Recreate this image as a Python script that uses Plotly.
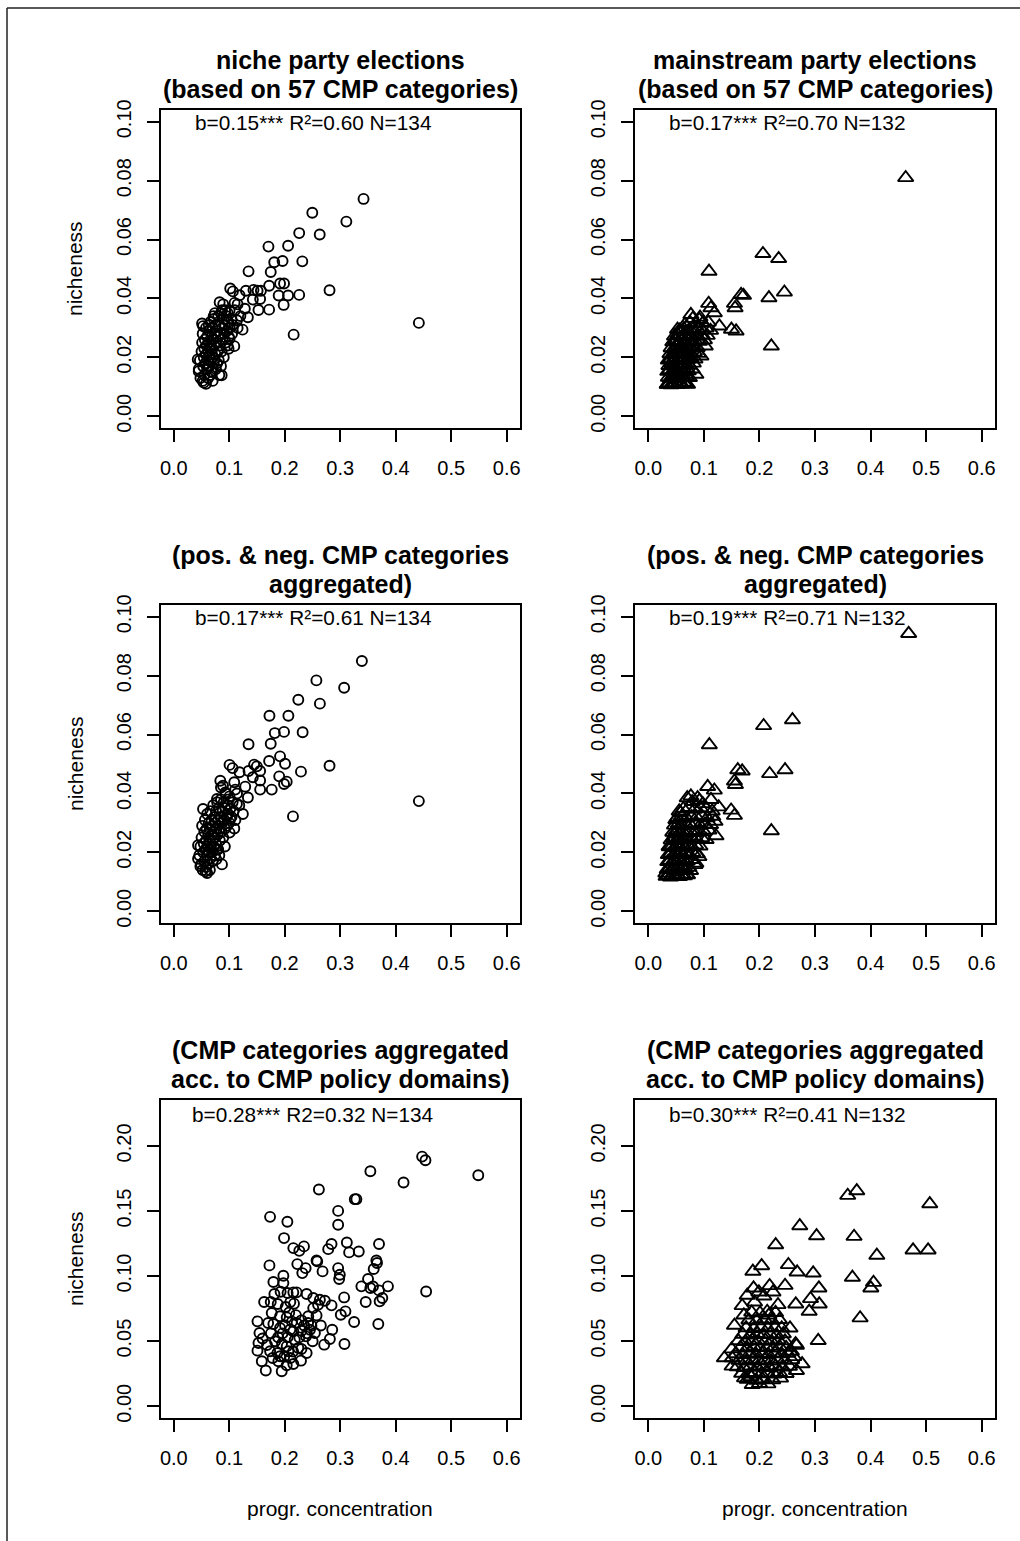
import plotly.graph_objects as go

# ---------------- data ----------------
x_tick_vals = [0.0, 0.1, 0.2, 0.3, 0.4, 0.5, 0.6]
x_tick_text = ["0.0", "0.1", "0.2", "0.3", "0.4", "0.5", "0.6"]
y_tick_vals_a = [0.00, 0.02, 0.04, 0.06, 0.08, 0.10]
y_tick_text_a = ["0.00", "0.02", "0.04", "0.06", "0.08", "0.10"]
y_tick_vals_b = [0.00, 0.05, 0.10, 0.15, 0.20]
y_tick_text_b = ["0.00", "0.05", "0.10", "0.15", "0.20"]

titles = [
    ["niche party elections", "(based on 57 CMP categories)"],
    ["mainstream party elections", "(based on 57 CMP categories)"],
    ["(pos. & neg. CMP categories", "aggregated)"],
    ["(pos. & neg. CMP categories", "aggregated)"],
    ["(CMP categories aggregated", "acc. to CMP policy domains)"],
    ["(CMP categories aggregated", "acc. to CMP policy domains)"],
]
stats = [
    "b=0.15*** R²=0.60 N=134",
    "b=0.17*** R²=0.70 N=132",
    "b=0.17*** R²=0.61 N=134",
    "b=0.19*** R²=0.71 N=132",
    "b=0.28*** R2=0.32 N=134",
    "b=0.30*** R²=0.41 N=132",
]
x_label = "progr. concentration"
y_label = "nicheness"

# niche parties, 57 categories
niche_57 = [
    (0.342,0.0738),(0.2496,0.0691),(0.311,0.0661),(0.226,0.0622),(0.263,0.0617),(0.1706,0.0576),
    (0.206,0.0579),(0.181,0.0523),(0.196,0.0527),(0.2316,0.0526),(0.1347,0.0492),(0.1747,0.049),
    (0.1718,0.0443),(0.1915,0.0451),(0.1987,0.0451),(0.2807,0.0428),(0.1017,0.0434),(0.1065,0.0424),
    (0.1185,0.0411),(0.130,0.0426),(0.1436,0.0429),(0.151,0.0426),(0.157,0.0426),(0.1424,0.0396),
    (0.1556,0.0398),(0.189,0.041),(0.206,0.041),(0.226,0.0412),(0.198,0.0378),(0.1718,0.0362),
    (0.1526,0.0361),(0.1335,0.0336),(0.128,0.0365),(0.4417,0.0317),(0.216,0.0277),(0.0826,0.0387),
    (0.1095,0.0385),(0.1005,0.0359),(0.097,0.0351),(0.0868,0.036),(0.0718,0.034),(0.1137,0.0326),
    (0.1239,0.0294),(0.109,0.0238),(0.1005,0.0263),(0.0987,0.0229),(0.0509,0.0315),(0.0527,0.0306),
    (0.0862,0.0139),(0.0431,0.0193),(0.0449,0.0153),(0.0539,0.0114),
    (0.045,0.016),(0.047,0.019),(0.048,0.013),(0.050,0.022),(0.051,0.025),(0.052,0.028),(0.052,0.012),
    (0.053,0.017),(0.054,0.020),(0.055,0.023),(0.055,0.014),(0.056,0.026),(0.057,0.018),(0.058,0.021),
    (0.058,0.030),(0.059,0.024),(0.060,0.016),(0.060,0.027),(0.061,0.019),(0.062,0.022),(0.062,0.013),
    (0.063,0.025),(0.064,0.029),(0.064,0.017),(0.065,0.021),(0.066,0.024),(0.066,0.032),(0.067,0.019),
    (0.068,0.027),(0.068,0.015),(0.069,0.023),(0.070,0.030),(0.070,0.020),(0.071,0.026),(0.072,0.033),
    (0.072,0.018),(0.073,0.024),(0.074,0.028),(0.075,0.021),(0.075,0.031),(0.076,0.016),(0.077,0.025),
    (0.078,0.029),(0.079,0.022),(0.080,0.034),(0.080,0.027),(0.081,0.019),(0.082,0.031),(0.083,0.024),
    (0.084,0.028),(0.085,0.035),(0.086,0.022),(0.087,0.030),(0.088,0.026),(0.090,0.033),(0.091,0.028),
    (0.092,0.031),(0.094,0.025),(0.095,0.034),(0.096,0.029),(0.098,0.032),(0.099,0.027),(0.101,0.030),
    (0.104,0.033),(0.106,0.031),(0.078,0.018),(0.070,0.012),(0.066,0.014),(0.058,0.011),(0.085,0.017),
    (0.063,0.031),(0.074,0.035),(0.089,0.038),(0.093,0.036),(0.11,0.036),(0.115,0.038),(0.12,0.034),
    (0.105,0.028),(0.115,0.030),(0.097,0.024),(0.09,0.020),(0.082,0.014),
]

# mainstream parties, 57 categories
main_57 = [
    (0.4632,0.081),(0.2063,0.0552),(0.2346,0.0535),(0.1092,0.0492),(0.2449,0.0421),(0.2171,0.0402),
    (0.2214,0.0238),(0.167,0.0413),(0.1713,0.041),(0.155,0.0383),(0.1562,0.0368),(0.1496,0.0295),
    (0.158,0.0289),(0.1086,0.0383),(0.1127,0.0368),(0.1188,0.0351),(0.1279,0.0306),(0.0766,0.0345),
    (0.0917,0.0328),(0.1025,0.0238),(0.0947,0.0204),(0.0856,0.0142),(0.0706,0.0108),(0.0525,0.0295),
    (0.0374,0.0193),(0.0344,0.0108),
    (0.034,0.0108),(0.038,0.0112),(0.041,0.0106),(0.045,0.0110),(0.049,0.0113),(0.052,0.0107),
    (0.056,0.0111),(0.060,0.0109),(0.064,0.0114),(0.068,0.0110),
    (0.036,0.0132),(0.040,0.0128),(0.044,0.0135),(0.047,0.0129),(0.051,0.0134),(0.055,0.0127),
    (0.059,0.0133),(0.063,0.0130),(0.069,0.0136),(0.074,0.0131),
    (0.035,0.0152),(0.039,0.0158),(0.043,0.0150),(0.048,0.0155),(0.052,0.0153),(0.057,0.0159),
    (0.061,0.0151),(0.066,0.0156),(0.072,0.0154),(0.079,0.0160),
    (0.037,0.0172),(0.042,0.0178),(0.046,0.0170),(0.050,0.0176),(0.054,0.0173),(0.058,0.0179),
    (0.063,0.0171),(0.067,0.0177),(0.073,0.0174),(0.081,0.0180),
    (0.036,0.0190),(0.041,0.0195),(0.045,0.0188),(0.049,0.0197),(0.053,0.0192),(0.057,0.0199),
    (0.062,0.0191),(0.066,0.0196),(0.071,0.0193),(0.077,0.0198),(0.084,0.0194),
    (0.039,0.0212),(0.044,0.0208),(0.048,0.0215),(0.052,0.0210),(0.056,0.0217),(0.061,0.0211),
    (0.065,0.0216),(0.070,0.0209),(0.076,0.0214),(0.083,0.0218),(0.090,0.0213),
    (0.041,0.0232),(0.046,0.0228),(0.051,0.0235),(0.055,0.0230),(0.060,0.0237),(0.064,0.0229),
    (0.069,0.0234),(0.075,0.0231),(0.081,0.0238),(0.088,0.0233),
    (0.044,0.0252),(0.049,0.0257),(0.054,0.0250),(0.059,0.0255),(0.065,0.0253),(0.071,0.0258),
    (0.077,0.0251),(0.084,0.0256),(0.092,0.0254),(0.101,0.0259),
    (0.047,0.0272),(0.053,0.0277),(0.060,0.0270),(0.067,0.0275),(0.074,0.0273),(0.082,0.0278),
    (0.089,0.0271),(0.097,0.0276),(0.106,0.0274),
    (0.056,0.0292),(0.064,0.0297),(0.072,0.0290),(0.080,0.0295),(0.088,0.0298),(0.096,0.0293),
    (0.104,0.0299),(0.112,0.0291),
    (0.066,0.0312),(0.075,0.0318),(0.085,0.0314),(0.098,0.0316),(0.108,0.0319),
    (0.080,0.0332),(0.093,0.0336),
]

# niche parties, pos. & neg. aggregated
niche_agg = [
    (0.339,0.085),(0.257,0.0784),(0.307,0.0759),(0.2244,0.0718),(0.2633,0.0705),(0.1724,0.0664),
    (0.2065,0.0664),(0.182,0.0605),(0.1987,0.0609),(0.2322,0.0608),(0.1347,0.0567),(0.1747,0.0569),
    (0.1915,0.0526),(0.1718,0.051),(0.2005,0.0501),(0.2807,0.0494),(0.2292,0.0474),(0.1005,0.0497),
    (0.1059,0.0486),(0.1185,0.0472),(0.1347,0.0476),(0.1448,0.0498),(0.1496,0.0492),(0.1556,0.0476),
    (0.1424,0.0455),(0.1556,0.0444),(0.190,0.0458),(0.2035,0.044),(0.1987,0.0432),(0.1765,0.0413),
    (0.1556,0.0413),(0.1287,0.0423),(0.1335,0.0386),(0.4417,0.0374),(0.2148,0.0322),(0.0838,0.0443),
    (0.1089,0.0438),(0.1107,0.0413),(0.0886,0.0426),(0.0928,0.0403),(0.1005,0.039),(0.0778,0.0381),
    (0.1137,0.0364),(0.1245,0.033),(0.1017,0.0313),(0.109,0.0281),(0.1005,0.0267),(0.0527,0.0347),
    (0.0437,0.0224),(0.0437,0.0178),(0.0479,0.0153),(0.0569,0.0136),(0.0868,0.0159),(0.0766,0.0176),
    (0.0778,0.021),
    (0.046,0.019),(0.048,0.022),(0.049,0.016),(0.050,0.025),(0.051,0.029),(0.052,0.014),(0.053,0.020),
    (0.054,0.023),(0.055,0.027),(0.055,0.017),(0.056,0.031),(0.057,0.021),(0.058,0.024),(0.058,0.015),
    (0.059,0.028),(0.060,0.019),(0.060,0.033),(0.061,0.022),(0.062,0.026),(0.062,0.016),(0.063,0.030),
    (0.064,0.020),(0.064,0.024),(0.065,0.028),(0.066,0.018),(0.066,0.034),(0.067,0.022),(0.068,0.026),
    (0.068,0.031),(0.069,0.020),(0.070,0.024),(0.070,0.029),(0.071,0.036),(0.072,0.022),(0.072,0.027),
    (0.073,0.032),(0.074,0.019),(0.074,0.025),(0.075,0.030),(0.076,0.034),(0.076,0.023),(0.077,0.028),
    (0.078,0.037),(0.079,0.026),(0.080,0.031),(0.080,0.021),(0.081,0.035),(0.082,0.028),(0.083,0.024),
    (0.084,0.032),(0.085,0.038),(0.086,0.027),(0.087,0.030),(0.088,0.034),(0.089,0.025),(0.090,0.037),
    (0.091,0.031),(0.092,0.028),(0.093,0.035),(0.094,0.040),(0.095,0.032),(0.096,0.029),(0.097,0.036),
    (0.098,0.033),(0.099,0.038),(0.100,0.030),(0.102,0.035),(0.104,0.032),(0.106,0.037),(0.108,0.034),
    (0.111,0.031),(0.114,0.040),(0.118,0.036),(0.070,0.017),(0.065,0.014),(0.082,0.019),(0.060,0.013),
    (0.092,0.022),(0.085,0.042),
]

# mainstream parties, pos. & neg. aggregated
main_agg = [
    (0.4686,0.0943),(0.2594,0.065),(0.2075,0.063),(0.1098,0.0565),(0.161,0.048),(0.1689,0.0476),
    (0.2183,0.0467),(0.2461,0.048),(0.155,0.0442),(0.1568,0.043),(0.2214,0.0273),(0.149,0.0343),
    (0.155,0.0325),(0.1068,0.0423),(0.1188,0.0411),(0.1128,0.0379),(0.1267,0.0354),(0.1218,0.0256),
    (0.0856,0.0163),(0.0766,0.0391),(0.0887,0.0385),(0.0555,0.034),(0.0495,0.0311),(0.0374,0.022),
    (0.0314,0.0129),(0.0706,0.0123),
    (0.032,0.0118),(0.036,0.0122),(0.040,0.0116),(0.044,0.0121),(0.048,0.0119),(0.052,0.0124),
    (0.056,0.0117),(0.060,0.0123),(0.065,0.0120),(0.069,0.0125),
    (0.034,0.0142),(0.038,0.0147),(0.042,0.0140),(0.046,0.0145),(0.050,0.0143),(0.054,0.0148),
    (0.058,0.0141),(0.062,0.0146),(0.067,0.0144),(0.073,0.0149),
    (0.035,0.0168),(0.039,0.0172),(0.043,0.0166),(0.047,0.0171),(0.051,0.0169),(0.055,0.0174),
    (0.060,0.0167),(0.064,0.0173),(0.070,0.0170),(0.078,0.0175),
    (0.036,0.0192),(0.041,0.0197),(0.045,0.0190),(0.049,0.0195),(0.053,0.0193),(0.058,0.0198),
    (0.062,0.0191),(0.067,0.0196),(0.073,0.0194),(0.080,0.0199),(0.088,0.0195),
    (0.038,0.0218),(0.043,0.0222),(0.047,0.0216),(0.052,0.0221),(0.057,0.0219),(0.061,0.0224),
    (0.066,0.0217),(0.072,0.0223),(0.078,0.0220),(0.085,0.0225),(0.093,0.0221),
    (0.041,0.0242),(0.046,0.0247),(0.051,0.0240),(0.056,0.0245),(0.061,0.0243),(0.066,0.0248),
    (0.072,0.0241),(0.079,0.0246),(0.087,0.0244),(0.096,0.0249),(0.104,0.0243),
    (0.044,0.0268),(0.050,0.0272),(0.056,0.0266),(0.062,0.0271),(0.068,0.0269),(0.075,0.0274),
    (0.083,0.0267),(0.091,0.0273),(0.100,0.0270),(0.109,0.0275),
    (0.047,0.0292),(0.054,0.0297),(0.061,0.0290),(0.068,0.0295),(0.076,0.0293),(0.084,0.0298),
    (0.093,0.0291),(0.102,0.0296),(0.112,0.0294),
    (0.052,0.0318),(0.060,0.0322),(0.069,0.0316),(0.078,0.0321),(0.087,0.0319),(0.096,0.0324),
    (0.106,0.0317),(0.116,0.0322),
    (0.063,0.0348),(0.073,0.0352),(0.083,0.0346),(0.094,0.0351),(0.104,0.0349),
    (0.079,0.0372),(0.092,0.0376),
    (0.070,0.0385),(0.098,0.0365),(0.115,0.0340),(0.120,0.0305),(0.058,0.0335),(0.048,0.0262),
    (0.084,0.0158),(0.076,0.0138),(0.091,0.0185),
]

# niche parties, policy domains
niche_dom = [
    (0.4476,0.1918),(0.4536,0.189),(0.5488,0.1775),(0.3543,0.1806),(0.4141,0.1719),(0.2615,0.1665),
    (0.3262,0.1591),(0.3291,0.1591),(0.2962,0.1501),(0.2962,0.1394),(0.1735,0.1455),(0.2047,0.1417),
    (0.1987,0.1292),(0.2154,0.1215),(0.2262,0.1194),(0.2346,0.1228),(0.2783,0.1207),(0.2843,0.1246),
    (0.3119,0.1258),(0.3160,0.1182),(0.3334,0.1189),(0.3699,0.1246),(0.3651,0.112),(0.3663,0.11),
    (0.2573,0.112),(0.2585,0.1113),(0.2681,0.1036),(0.2226,0.1092),(0.2376,0.1061),(0.2316,0.1023),
    (0.1724,0.1082),(0.1975,0.1003),(0.2962,0.1061),(0.2992,0.101),(0.2980,0.0977),(0.3603,0.1054),
    (0.3501,0.0977),(0.3381,0.0921),(0.3543,0.0908),(0.359,0.092),(0.3698,0.089),(0.386,0.0921),
    (0.3758,0.0831),(0.371,0.0806),(0.3459,0.0801),(0.4548,0.0882),(0.307,0.0836),(0.3094,0.0729),
    (0.301,0.0703),(0.325,0.0647),(0.3686,0.0632),(0.2855,0.0588),(0.2813,0.0517),(0.3076,0.0478),
    (0.2711,0.0473),(0.1795,0.0954),(0.1975,0.0946),(0.1813,0.0862),(0.2154,0.0875),(0.2214,0.0875),
    (0.2394,0.0862),(0.2513,0.0831),(0.2633,0.0818),(0.2723,0.0811),(0.2843,0.0775),(0.1628,0.0801),
    (0.1747,0.0801),(0.1873,0.0785),(0.2017,0.0762),(0.2166,0.0788),(0.2513,0.0754),(0.1765,0.0716),
    (0.1915,0.0691),(0.2035,0.0683),(0.2424,0.0691),(0.2573,0.0698),(0.1508,0.0652),(0.1795,0.0632),
    (0.1915,0.0601),(0.2005,0.0621),(0.2214,0.0639),(0.2454,0.0588),(0.2543,0.0563),(0.1544,0.0563),
    (0.2154,0.0575),(0.2262,0.0529),(0.2382,0.0537),(0.2502,0.0499),(0.1526,0.0486),(0.1825,0.0499),
    (0.2035,0.046),(0.2244,0.0448),(0.1508,0.0427),(0.1736,0.0422),(0.1867,0.0409),(0.1915,0.0384),
    (0.2065,0.0422),(0.2394,0.0409),(0.1586,0.0345),(0.1885,0.0345),(0.2035,0.0315),(0.2154,0.0325),
    (0.2292,0.035),(0.1658,0.0274),(0.1945,0.0269),
    (0.1925,0.0880),(0.2050,0.0870),(0.2100,0.0800),(0.2080,0.0720),(0.2200,0.0700),(0.2300,0.0660),
    (0.2350,0.0620),(0.2420,0.0640),(0.2480,0.0620),(0.2130,0.0650),(0.2100,0.0590),(0.1960,0.0560),
    (0.2050,0.0530),(0.2180,0.0510),(0.2300,0.0580),(0.2400,0.0560),(0.1880,0.0530),(0.1750,0.0560),
    (0.1680,0.0470),(0.1950,0.0480),(0.2150,0.0420),(0.2300,0.0440),(0.1990,0.0380),(0.2100,0.0370),
    (0.1780,0.0370),(0.1600,0.0520),(0.1700,0.0640),(0.2600,0.0780),(0.2650,0.0620),
]

# mainstream parties, policy domains
main_dom = [
    (0.3752,0.1655),(0.3589,0.1619),(0.5066,0.1555),(0.2726,0.1386),(0.3028,0.1309),(0.3703,0.1304),
    (0.2292,0.124),(0.4113,0.1159),(0.4765,0.12),(0.5036,0.12),(0.2039,0.1079),(0.1882,0.1036),
    (0.2521,0.1087),(0.2678,0.1031),(0.2967,0.1023),(0.3673,0.099),(0.4053,0.0951),(0.4005,0.0908),
    (0.307,0.0908),(0.2461,0.0928),(0.2183,0.0926),(0.1894,0.0908),(0.199,0.0877),(0.2244,0.0877),
    (0.2919,0.0826),(0.2654,0.0785),(0.3076,0.0785),(0.2895,0.0729),(0.3812,0.0678),(0.1689,0.0772),
    (0.1912,0.08),(0.2334,0.078),(0.155,0.0621),(0.3058,0.0504),(0.2666,0.0468),(0.1369,0.0371),
    (0.1508,0.0371),(0.1508,0.0307),(0.2768,0.0325),(0.2666,0.0274),(0.2575,0.0422),(0.187,0.0166),
    (0.2153,0.0171),(0.1731,0.0217),
    (0.178,0.0205),(0.195,0.0198),(0.205,0.0210),(0.224,0.0202),(0.238,0.0215),
    (0.168,0.0252),(0.182,0.0246),(0.192,0.0258),(0.203,0.0249),(0.214,0.0255),(0.226,0.0247),
    (0.236,0.0259),(0.248,0.0251),
    (0.160,0.0302),(0.172,0.0296),(0.184,0.0308),(0.196,0.0299),(0.207,0.0305),(0.218,0.0297),
    (0.229,0.0309),(0.241,0.0301),(0.254,0.0306),
    (0.163,0.0352),(0.176,0.0346),(0.188,0.0358),(0.199,0.0349),(0.210,0.0355),(0.221,0.0347),
    (0.233,0.0359),(0.245,0.0351),(0.258,0.0356),
    (0.158,0.0402),(0.170,0.0396),(0.183,0.0408),(0.194,0.0399),(0.205,0.0405),(0.216,0.0397),
    (0.228,0.0409),(0.240,0.0401),(0.251,0.0406),
    (0.166,0.0452),(0.178,0.0446),(0.190,0.0458),(0.201,0.0449),(0.213,0.0455),(0.225,0.0447),
    (0.236,0.0459),(0.248,0.0451),
    (0.162,0.0502),(0.175,0.0496),(0.187,0.0508),(0.198,0.0499),(0.211,0.0505),(0.222,0.0497),
    (0.234,0.0509),(0.246,0.0501),
    (0.170,0.0552),(0.184,0.0546),(0.196,0.0558),(0.208,0.0549),(0.219,0.0555),(0.231,0.0547),
    (0.243,0.0556),
    (0.176,0.0602),(0.190,0.0596),(0.203,0.0608),(0.215,0.0599),(0.228,0.0605),(0.240,0.0600),
    (0.181,0.0662),(0.195,0.0656),(0.209,0.0668),(0.222,0.0659),(0.236,0.0665),
    (0.186,0.0722),(0.201,0.0716),(0.214,0.0728),(0.229,0.0719),
    (0.178,0.0852),(0.208,0.0846),(0.217,0.0700),
    (0.200,0.0175),(0.185,0.0225),(0.262,0.0380),(0.265,0.0480),(0.255,0.0600),(0.150,0.0440),
    (0.172,0.0700),
]

panels = [niche_57, main_57, niche_agg, main_agg, niche_dom, main_dom]

# ---------------- layout geometry ----------------
W, H = 1020, 1541
col_px = [(160.5, 520.0), (635.0, 995.0)]
row_px = [(110.0, 428.0), (605.0, 923.0), (1100.0, 1418.0)]
title_px = [(60.0, 89.0), (555.0, 584.0), (1050.0, 1079.0)]
x_range = [-0.024, 0.624]
y_range_a = [-0.004, 0.104]
y_range_b = [-0.00905, 0.2353]
stat_y = [0.0996, 0.0996, 0.2238]

FONT = "Liberation Sans, Arial, sans-serif"

def px2x(p):
    return p / W

def px2y(p):
    return 1 - p / H

fig = go.Figure()
annotations = []
layout = {}

for i, pts in enumerate(panels):
    r, c = divmod(i, 2)
    k = i + 1
    xs = [p[0] for p in pts]
    ys = [p[1] for p in pts]
    is_main = (c == 1)
    fig.add_trace(go.Scatter(
        x=xs, y=ys, mode="markers",
        xaxis=f"x{k}", yaxis=f"y{k}",
        marker=dict(
            symbol="triangle-up-open" if is_main else "circle-open",
            size=13.5 if is_main else 10,
            color="black",
            line=dict(color="black", width=1.9),
        ),
        showlegend=False, hoverinfo="skip",
    ))
    bottom = (r == 2)
    yv = y_tick_vals_b if bottom else y_tick_vals_a
    yt = y_tick_text_b if bottom else y_tick_text_a
    yr = y_range_b if bottom else y_range_a
    axis_common = dict(
        showline=True, mirror=True, linecolor="black", linewidth=2,
        ticks="outside", ticklen=12, tickwidth=2, tickcolor="black",
        showgrid=False, zeroline=False, automargin=False,
        tickfont=dict(family=FONT, size=20, color="black"),
    )
    layout[f"xaxis{k}"] = dict(
        domain=[px2x(col_px[c][0]), px2x(col_px[c][1])],
        range=x_range, tickmode="array", tickvals=x_tick_vals, ticktext=x_tick_text,
        anchor=f"y{k}", ticklabelstandoff=9, **axis_common,
    )
    layout[f"yaxis{k}"] = dict(
        domain=[px2y(row_px[r][1]), px2y(row_px[r][0])],
        range=yr, tickmode="array", tickvals=yv, ticktext=yt, tickangle=-90,
        anchor=f"x{k}", ticklabelstandoff=8, **axis_common,
    )
    cx = (col_px[c][0] + col_px[c][1]) / 2
    for line_i, txt in enumerate(titles[i]):
        annotations.append(dict(
            x=px2x(cx), y=px2y(title_px[r][line_i]), xref="paper", yref="paper",
            text=f"<b>{txt}</b>", showarrow=False, xanchor="center", yanchor="middle",
            font=dict(family=FONT, size=25, color="black"),
        ))
    annotations.append(dict(
        x=0.25, y=stat_y[r], xref=f"x{k}", yref=f"y{k}", text=stats[i],
        showarrow=False, xanchor="center", yanchor="middle",
        font=dict(family=FONT, size=20.8, color="black"),
    ))
    if c == 0:
        annotations.append(dict(
            x=px2x(75), y=px2y((row_px[r][0] + row_px[r][1]) / 2), xref="paper", yref="paper",
            text=y_label, textangle=-90, showarrow=False, xanchor="center", yanchor="middle",
            font=dict(family=FONT, size=21, color="black"),
        ))
    if bottom:
        annotations.append(dict(
            x=px2x(cx), y=px2y(1508), xref="paper", yref="paper",
            text=x_label, showarrow=False, xanchor="center", yanchor="middle",
            font=dict(family=FONT, size=21, color="black"),
        ))

shapes = [
    dict(type="line", xref="paper", yref="paper", x0=px2x(7), x1=px2x(7), y0=0, y1=px2y(8),
         line=dict(color="#222222", width=1.5)),
    dict(type="line", xref="paper", yref="paper", x0=px2x(7), x1=1, y0=px2y(8), y1=px2y(8),
         line=dict(color="#222222", width=1.5)),
]

fig.update_layout(
    width=W, height=H, margin=dict(l=0, r=0, t=0, b=0, pad=0, autoexpand=False),
    paper_bgcolor="white", plot_bgcolor="white",
    annotations=annotations, shapes=shapes, showlegend=False,
    **layout,
)

fig.write_html("out.html", config={"displayModeBar": False})
